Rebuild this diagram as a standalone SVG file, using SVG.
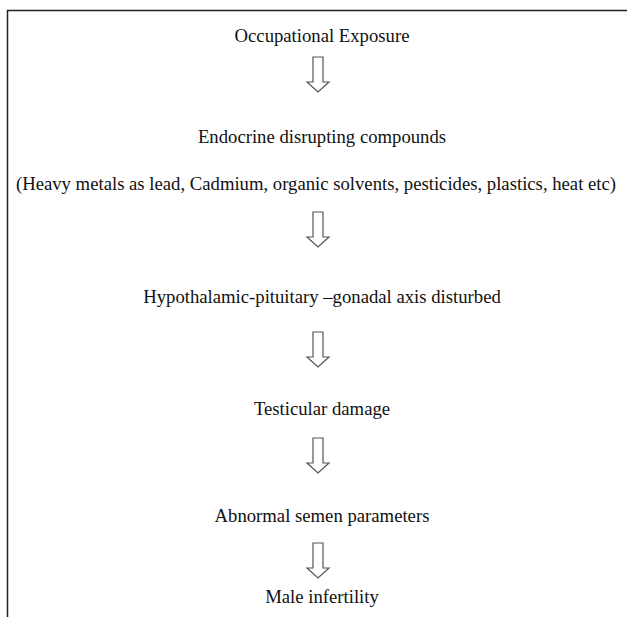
<svg xmlns="http://www.w3.org/2000/svg" width="627" height="617" viewBox="0 0 627 617">
<style>
.t{font-family:'Liberation Serif','Times New Roman',Times,'DejaVu Serif',serif;font-size:18.7px;fill:#111;text-anchor:middle}
.a{fill:#fff;stroke:#555;stroke-width:1.2;stroke-linejoin:miter}
.b{stroke:#222;stroke-width:1.5;fill:none}
</style>
<defs>
<path id="arr" class="a" d="M-5,0 H5 V25 H11 L0,35 L-11,25 H-5 Z"/>
</defs>
<rect width="627" height="617" fill="#fff"/>
<g id="frame">
<path class="b" d="M7.5,617 V10.5 H627"/>
</g>
<g id="n1"><text class="t" x="322" y="42">Occupational Exposure</text></g>
<g id="n2"><text class="t" x="322" y="143">Endocrine disrupting compounds</text>
<text class="t" x="316" y="190">(Heavy metals as lead, Cadmium, organic solvents, pesticides, plastics, heat etc)</text></g>
<g id="n3"><text class="t" x="322" y="303">Hypothalamic-pituitary –gonadal axis disturbed</text></g>
<g id="n4"><text class="t" x="322" y="415">Testicular damage</text></g>
<g id="n5"><text class="t" x="322" y="522">Abnormal semen parameters</text></g>
<g id="n6"><text class="t" x="322" y="603">Male infertility</text></g>
<g id="connectors">
<use href="#arr" x="318" y="57"/>
<use href="#arr" x="318" y="212"/>
<use href="#arr" x="318" y="332"/>
<use href="#arr" x="318" y="438"/>
<use href="#arr" x="318" y="543"/>
</g>
</svg>
